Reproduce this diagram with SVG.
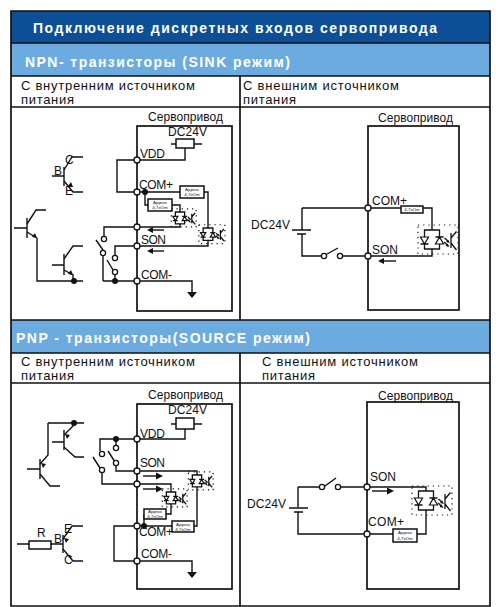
<svg xmlns="http://www.w3.org/2000/svg" width="502" height="607" viewBox="0 0 502 607">
<style>
text{font-family:"Liberation Sans",Arial,sans-serif;fill:#111}
.w{fill:none;stroke:#111;stroke-width:1.4}
.f{fill:none;stroke:#111;stroke-width:1.7}
.t{font-size:12px}
.h{font-size:14px;font-weight:bold;fill:#fff}
.r{font-size:13px}
.s{font-size:12px}
.c{fill:#fff;stroke:#111;stroke-width:1.3}
.d{fill:#111;stroke:none}
.b{fill:#fff;stroke:#111;stroke-width:1.5}
.a{font-size:4.4px;text-anchor:middle}
.o{fill:none;stroke:#111;stroke-width:1.3;vector-effect:non-scaling-stroke}
.g{fill:#fff;stroke:#111;stroke-width:1.2;vector-effect:non-scaling-stroke}
.p{fill:none;stroke:#111;stroke-width:1.2;stroke-dasharray:1.2 4;vector-effect:non-scaling-stroke}
</style>
<defs>
<g id="opto">
<rect class="p" x="-14" y="-5" width="40" height="29"/>
<rect class="o" x="-7.5" y="0" width="15" height="19"/>
<path class="g" d="M-11.500 7H-3.500L-7.500 14ZM3.500 14H11.500L7.500 7Z"/>
<path class="o" d="M-11.500 14H-3.500M3.500 7H11.500"/>
<path class="o" d="M12.500 8L16.500 11.500M12 12L16 15.500"/>
<path class="d" d="M18 13L14 12L16 9.500ZM17.500 17L13.500 16L15.500 13.500Z"/>
<path class="o" d="M19 3V18M19 8L24.500 1.500M19 13L24.500 20"/>
</g>
<path id="aL" class="d" d="M0 0L6 -3V3Z"/>
<path id="aR" class="d" d="M0 0L-7 -3.500V3.500Z"/>
<path id="aD" class="d" d="M0 0L-5 -6H5Z"/>
<path id="tip" class="d" d="M0 0L-5 -1L-2 -5Z"/>
</defs>

<g id="frame">
<rect x="11" y="11" width="479" height="32" fill="#0c4f96"/>
<rect x="11" y="43" width="479" height="33" fill="#6cabdf"/>
<rect x="11" y="320" width="479" height="33" fill="#6cabdf"/>
<path class="f" d="M11 11H490V606H11ZM11 43H490M11 76H490M11 107H490M11 320H490M11 353H490M11 383H490M240 76V320M240 353V606"/>
</g>

<g id="labels">
<text class="h" x="33" y="33" textLength="404">Подключение дискретных входов сервопривода</text>
<text class="h" x="25" y="67" textLength="265">NPN- транзисторы (SINK режим)</text>
<text class="h" x="16" y="343" textLength="294">PNP - транзисторы(SOURCE режим)</text>
<text class="r" x="21" y="90" textLength="174">С внутренним источником</text>
<text class="r" x="21" y="104" textLength="53">питания</text>
<text class="r" x="243" y="90" textLength="156">С внешним источником</text>
<text class="r" x="243" y="104" textLength="53">питания</text>
<text class="r" x="21" y="366" textLength="174">С внутренним источником</text>
<text class="r" x="21" y="380" textLength="53">питания</text>
<text class="r" x="262" y="366" textLength="156">С внешним источником</text>
<text class="r" x="262" y="380" textLength="53">питания</text>
</g>

<g id="connectors">
<path class="w" d="M185 148V160H137M137 160H117V192H137M137 192H180M204 192H208V228M145 192V205H148M172 205H180V212M137 227H180V223.800M137 246H208V240.300M137 281H192V292M37 238V281H83M103 281H137M137 227H104V236M103 256V281M137 246H115V255M115 275V281"/>
<path class="w" d="M96 240L103 250M107 260L113 270"/>
<path class="w" d="M14 228H27M46 210H36L27 224M27 232L37 238M52 265H64M83 246H73L64 259M64 270L73 275V281M52 176H64M83 157H72L64 170M64 181L73 192H83"/>
<path class="w" d="M302 208H368M368 208H401M423 208H432V230M432 249V256H368M302 208V230M302 234V256H321M343 256H368"/>
<path class="w" d="M327 254L338 248"/>
<path class="w" d="M185 429V439H137M137 439H100V451M102 473V484H137M116 439V445M116 466V471H137M137 471H197V475M137 484H171V492M197 486.800V526H194M171 503.800V514H166M144 514V526M137 526H172M137 526H114V561H137M137 561H192V572"/>
<path class="w" d="M93 457L100 468M108 451L115 462"/>
<path class="w" d="M52 442H64M64 435L73 426V423M48 423H84M64 447L75 457H84M27 469H40M40 464L48 455V423M40 474L50 486H60M17 544H29M51 544H63M63 539L72 526H83M63 549L73 561H83"/>
<path class="w" d="M298 487H319M341 487H367M367 487H426V491M426 510V534H417M393 534H298V512M298 487V507"/>
<path class="w" d="M325 486L336 478"/>
</g>

<g id="servo-box-1"><rect class="f" x="137" y="126" width="95" height="185"/><text class="s" x="148" y="121" textLength="75">Сервопривод</text></g>
<g id="servo-box-2"><rect class="f" x="368" y="126" width="91" height="184"/><text class="s" x="378" y="122" textLength="75">Сервопривод</text></g>
<g id="servo-box-3"><rect class="f" x="137" y="404" width="95" height="185"/><text class="s" x="148" y="399" textLength="75">Сервопривод</text></g>
<g id="servo-box-4"><rect class="f" x="367" y="402" width="92" height="187"/><text class="s" x="378" y="400" textLength="75">Сервопривод</text></g>

<g id="panel-1-nodes">
<g id="fuse-1"><rect class="b" x="176" y="139" width="18" height="9"/><path class="w" d="M171 144H176M194 144H202"/><text class="t" x="168" y="136" textLength="39">DC24V</text></g>
<g id="vdd-1"><circle class="c" cx="137" cy="160" r="3"/><text class="t" x="140" y="158" textLength="25">VDD</text></g>
<g id="com-plus-1"><circle class="c" cx="137" cy="192" r="3"/><circle class="d" cx="145" cy="192" r="3"/><text class="t" x="139" y="189" textLength="34">COM+</text></g>
<g id="r-1a"><rect class="b" x="180" y="186" width="24" height="12"/><text class="a" x="192" y="191">Approx</text><text class="a" x="192" y="196">4,7xOm</text></g>
<g id="r-1b"><rect class="b" x="148" y="199" width="24" height="12"/><text class="a" x="160" y="204">Approx</text><text class="a" x="160" y="209">4,7xOm</text></g>
<use id="opto-1a" href="#opto" transform="translate(180 212) scale(.62)"/>
<use id="opto-1b" href="#opto" transform="translate(208 228) scale(.65)"/>
<g id="in-1"><circle class="c" cx="137" cy="227" r="3"/><path class="w" d="M150 230H164"/><use href="#aL" x="147" y="230"/></g>
<g id="son-1"><circle class="c" cx="137" cy="246" r="3"/><text class="t" x="141" y="244" textLength="25">SON</text><path class="w" d="M150 251H164"/><use href="#aL" x="147" y="251"/></g>
<g id="com-minus-1"><circle class="c" cx="137" cy="281" r="3"/><text class="t" x="141" y="279" textLength="31">COM-</text><use href="#aD" x="192" y="298"/></g>
<g id="switch-1a"><circle class="c" cx="104" cy="239" r="2.600"/><circle class="c" cx="103" cy="253" r="2.600"/></g>
<g id="switch-1b"><circle class="c" cx="115" cy="258" r="2.600"/><circle class="c" cx="115" cy="272" r="2.600"/><circle class="d" cx="115" cy="281" r="3"/></g>
<g id="npn-1"><path class="w" d="M64 167V186" stroke-width="2"/><use href="#tip" x="73" y="187"/><text class="t" x="65" y="164">C</text><text class="t" x="54" y="175">B</text><text class="t" x="65" y="195">E</text></g>
<g id="npn-2"><path class="w" d="M27 218V238" stroke-width="2"/><use href="#tip" x="37" y="238"/></g>
<g id="npn-3"><path class="w" d="M64 254V275" stroke-width="2"/><use href="#tip" x="73" y="275"/><circle class="d" cx="74" cy="281" r="3"/></g>
</g>

<g id="panel-2-nodes">
<g id="com-plus-2"><circle class="c" cx="368" cy="208" r="3"/><text class="t" x="372" y="205" textLength="35">COM+</text></g>
<g id="r-2"><rect class="b" x="401" y="206" width="22" height="7"/><text class="a" x="412" y="211">4,7xOm</text></g>
<use id="opto-2" href="#opto" transform="translate(432 230)"/>
<g id="son-2"><circle class="c" cx="368" cy="256" r="3"/><text class="t" x="372" y="254" textLength="26">SON</text><path class="w" d="M381 261H396"/><use href="#aL" x="378" y="261"/></g>
<g id="battery-2"><path class="w" d="M292 230H311M297 234H306"/><text class="t" x="251" y="229" textLength="39">DC24V</text></g>
<g id="switch-2"><circle class="c" cx="324" cy="256" r="2.600"/><circle class="c" cx="340" cy="256" r="2.600"/></g>
</g>

<g id="panel-3-nodes">
<g id="fuse-3"><rect class="b" x="176" y="418" width="18" height="11"/><path class="w" d="M171 424H176M194 424H202"/><text class="t" x="168" y="414" textLength="39">DC24V</text></g>
<g id="vdd-3"><circle class="c" cx="137" cy="439" r="3"/><circle class="d" cx="116" cy="439" r="3"/><text class="t" x="140" y="438" textLength="25">VDD</text></g>
<g id="switch-3a"><circle class="c" cx="102" cy="454" r="2.600"/><circle class="c" cx="102" cy="470" r="2.600"/></g>
<g id="switch-3b"><circle class="c" cx="116" cy="448" r="2.600"/><circle class="c" cx="116" cy="463" r="2.600"/></g>
<g id="son-3"><circle class="c" cx="137" cy="471" r="3"/><text class="t" x="140" y="467" textLength="25">SON</text><path class="w" d="M143 476H157"/><use href="#aR" x="163" y="476"/></g>
<g id="in-3"><circle class="c" cx="137" cy="484" r="3"/><path class="w" d="M143 489H157"/><use href="#aR" x="163" y="489"/></g>
<use id="opto-3a" href="#opto" transform="translate(197 475) scale(.62)"/>
<use id="opto-3b" href="#opto" transform="translate(171 492) scale(.62)"/>
<g id="r-3a"><rect class="b" x="172" y="521" width="22" height="11"/><text class="a" x="183" y="525.500">Approx</text><text class="a" x="183" y="530.500">4,7xOm</text></g>
<g id="r-3b"><rect class="b" x="144" y="509" width="22" height="10"/><text class="a" x="155" y="513">Approx</text><text class="a" x="155" y="518">4,7xOm</text></g>
<g id="com-plus-3"><circle class="c" cx="137" cy="526" r="3"/><circle class="d" cx="144" cy="526" r="3"/><text class="t" x="139" y="536" textLength="34">COM+</text></g>
<g id="com-minus-3"><circle class="c" cx="137" cy="561" r="3"/><text class="t" x="141" y="558" textLength="31">COM-</text><use href="#aD" x="192" y="578"/></g>
<g id="pnp-1"><path class="w" d="M64 430V450" stroke-width="2"/><use href="#tip" x="65" y="434" transform="rotate(180 65 434)"/><circle class="d" cx="74" cy="423" r="3"/></g>
<g id="pnp-2"><path class="w" d="M40 459V479" stroke-width="2"/><use href="#tip" x="41" y="463" transform="rotate(180 41 463)"/></g>
<g id="pnp-3"><rect class="b" x="29" y="541" width="22" height="8"/><path class="w" d="M63 535V553" stroke-width="2"/><use href="#tip" x="64" y="538" transform="rotate(180 64 538)"/><text class="t" x="37" y="537">R</text><text class="t" x="54" y="543">B</text><text class="t" x="64" y="533">E</text><text class="t" x="64" y="564">C</text></g>
</g>

<g id="panel-4-nodes">
<g id="son-4"><circle class="c" cx="367" cy="487" r="3"/><text class="t" x="370" y="481" textLength="26">SON</text><path class="w" d="M372 491H388"/><use href="#aR" x="394" y="491"/></g>
<g id="com-plus-4"><circle class="c" cx="367" cy="534" r="3"/><text class="t" x="368" y="526" textLength="36">COM+</text></g>
<g id="r-4"><rect class="b" x="393" y="529" width="24" height="13"/><text class="a" x="405" y="534">Approx</text><text class="a" x="405" y="540">4,7xOm</text></g>
<use id="opto-4" href="#opto" transform="translate(426 491)"/>
<g id="battery-4"><path class="w" d="M289 508H308M294 512H303"/><text class="t" x="247" y="508" textLength="39">DC24V</text></g>
<g id="switch-4"><circle class="c" cx="322" cy="487" r="2.600"/><circle class="c" cx="338" cy="487" r="2.600"/></g>
</g>
</svg>
